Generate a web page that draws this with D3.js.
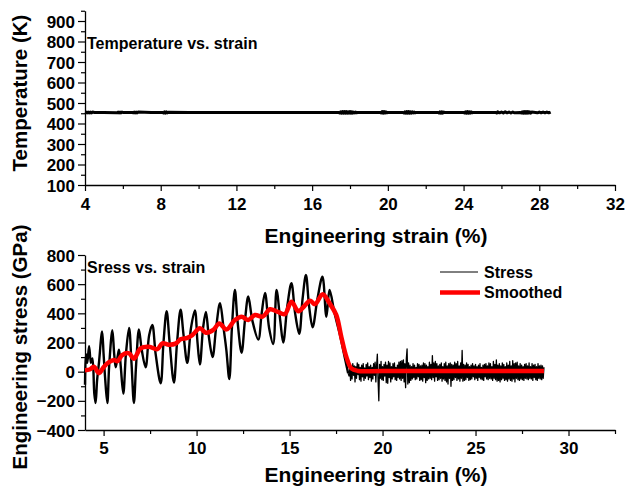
<!DOCTYPE html>
<html>
<head>
<meta charset="utf-8">
<script src="https://cdn.jsdelivr.net/npm/d3@7"></script>
<style>
  html, body { margin: 0; padding: 0; background: #fff; }
  svg { display: block; }
  text { font-family: "Liberation Sans", Arial, sans-serif; font-weight: bold; fill: #000; }
</style>
</head>
<body>
<svg id="chart" width="625" height="489"></svg>
<script>
// ---------------- DATA ----------------
// Top panel: temperature vs strain (strain %, temperature K)
const tempStrain = [4.0,4.05,4.1,4.15,4.2,4.25,4.3,4.35,4.4,4.5,5.0,5.7,5.75,5.8,5.85,5.9,5.95,6.0,6.5,6.55,6.6,6.65,6.7,6.75,6.8,7.5,8.1,8.15,8.2,8.25,8.3,8.35,8.4,9.5,10.7,12.2,13.5,14.7,15.9,17.4,17.45,17.5,17.55,17.6,17.65,17.7,17.75,17.8,17.85,17.9,17.95,18.0,18.05,18.1,18.15,18.2,18.25,18.3,18.35,18.4,19.0,19.6,19.65,19.7,19.75,19.8,19.85,19.9,19.95,20.0,20.8,20.85,20.9,20.95,21.0,21.05,21.1,21.15,21.2,21.25,21.3,21.35,21.4,21.45,21.5,22.0,22.65,22.7,22.75,22.8,22.85,22.9,22.95,23.0,23.5,24.0,24.05,24.1,24.15,24.2,24.25,24.3,24.35,24.4,24.45,24.5,25.2,25.7,25.75,25.8,25.9,26.0,26.1,26.2,26.3,26.4,26.5,26.6,26.7,27.0,27.05,27.1,27.15,27.2,27.25,27.3,27.35,27.4,27.45,27.5,27.55,27.6,27.8,27.9,28.0,28.1,28.2,28.3,28.4,28.5,28.6];
const tempK      = [454,452,456,452,456,452,456,452,456,454,454,452,456,452,456,452,456,454,454,452,456,452,456,452,456,454,454,451,457,451,457,452,455,454,454,454,454,454,454,454,451,457,450,458,450,458,450,458,450,457,451,458,450,457,451,456,452,456,452,454,454,454,451,458,450,458,451,457,452,454,454,451,457,450,458,450,458,450,457,451,457,452,456,452,454,454,454,451,457,450,457,451,456,454,454,454,451,457,450,458,450,457,451,457,452,454,454,454,451,457,452,456,451,457,452,456,451,456,452,454,451,457,450,458,450,458,450,458,451,457,451,456,454,452,456,452,456,452,456,452,456,454];

// Bottom panel: stress vs strain (strain %, stress GPa) – oscillating part
const stressStrain = [4.00,4.05,4.12,4.22,4.32,4.40,4.50,4.57,4.65,4.75,4.92,5.00,5.08,5.20,5.30,5.47,5.57,5.65,5.75,5.83,5.92,6.06,6.20,6.37,6.50,6.63,6.75,6.90,7.05,7.26,7.45,7.62,7.80,8.07,8.22,8.39,8.55,8.78,8.95,9.14,9.30,9.50,9.70,9.91,10.05,10.18,10.35,10.50,10.65,10.86,11.05,11.26,11.45,11.60,11.76,11.90,12.06,12.20,12.42,12.60,12.78,13.00,13.32,13.50,13.68,13.90,14.12,14.30,14.50,14.66,14.88,15.10,15.30,15.52,15.70,15.88,16.05,16.24,16.50,16.77,16.98,17.15,17.42,17.69,17.96,18.15];
const stressValue  = [-90,120,60,175,60,90,-150,-215,-60,60,275,120,-40,-215,40,285,120,30,100,150,40,-150,120,300,60,-215,50,290,150,30,250,320,120,-80,200,415,200,-75,200,425,250,60,300,420,200,50,300,410,250,100,300,470,300,150,-50,300,560,350,130,350,515,350,220,400,540,300,190,560,350,200,450,606,400,260,500,663,450,305,500,651,377,560,400,263,103,-11];

// Bottom panel: stress noise after failure (starts at 18.2 %, every 0.04 %)
const noiseStart = 18.2;
const noiseStep = 0.04;
const noiseValue = [
  -30,45,-60,20,-50,55,-25,40,-70,35,
  -45,60,-20,50,-55,30,-65,45,-35,55,
  -60,25,-45,50,-30,60,-55,35,-40,45,
  -65,30,-50,55,-25,65,-70,40,120,-60,
  -200,50,-45,70,-55,35,-60,50,-30,65,
  -75,45,-80,70,-40,60,-70,35,-50,55,
  -35,60,-55,30,-60,45,-40,65,-50,70,
  -60,75,-45,80,-70,55,-110,90,156,-85,
  60,-75,45,-60,35,-50,55,-40,45,-55,
  30,-50,55,-35,50,-60,40,-55,45,-65,
  60,-40,55,-75,45,-60,35,-50,65,-45,
  50,-55,110,-40,60,-65,70,-35,55,-60,
  40,-55,50,-45,60,-65,35,-50,55,-60,
  65,-70,40,-85,55,-45,60,-100,50,-60,
  45,-55,65,-40,55,-60,70,-50,40,-65,
  60,-45,145,-65,50,-60,45,-55,60,-40,
  50,-60,35,-55,45,-50,55,-35,40,-55,
  50,-45,35,-60,45,-40,55,-50,30,-55,
  45,-60,50,-35,55,-50,40,-55,60,-45,
  55,-50,35,-60,70,-45,50,-55,80,-65,
  45,-60,55,-70,40,-55,60,-45,50,-60,
  35,-55,60,-65,45,-50,70,-60,40,-65,
  75,-50,55,-70,60,-45,65,-55,40,-60,
  55,-50,45,-55,35,-60,50,-45,55,-50,
  40,-55,60,-45,35,-50,55,-60,45,-40,
  50,-55,35,-60,55,-45,40,-50,45,-55,
  40,-45,30];

// Smoothed stress (strain %, stress GPa)
const smoothStrain = [4.0,4.25,4.48,4.75,5.02,5.29,5.56,5.75,6.0,6.37,6.63,6.99,7.44,7.89,8.16,8.5,8.87,9.14,9.5,9.77,10.18,10.5,10.9,11.22,11.61,12.06,12.42,12.78,13.14,13.55,13.95,14.34,14.75,15.1,15.47,15.8,16.1,16.37,16.78,17.15,17.51,17.78,18.05,18.32,18.68,20.0,24.0,28.68];
const smoothValue  = [10,15,34,-10,34,65,80,72,114,126,88,160,171,154,194,185,192,222,232,251,297,267,286,331,290,354,377,354,389,377,428,411,395,480,415,450,487,463,531,469,389,240,103,23,5,5,5,5];

// Axis ticks / labels / texts
const topXTicks = [4,8,12,16,20,24,28,32];
const topXMinor = [6,10,14,18,22,26,30];
const topYTicks = [100,200,300,400,500,600,700,800,900];
const topYMinor = [150,250,350,450,550,650,750,850,950];
const botXTicks = [5,10,15,20,25,30];
const botXMinor = [7.5,12.5,17.5,22.5,27.5,32.5];
const botYTicks = [-400,-200,0,200,400,600,800];
const botYMinor = [-300,-100,100,300,500,700];
const xTitle = "Engineering strain (%)";
const topYTitle = "Temperature (K)";
const botYTitle = "Engineering stress (GPa)";
const topLabel = "Temperature vs. strain";
const botLabel = "Sress vs. strain";
const legendNames = ["Stress", "Smoothed"];

// ---------------- DRAW ----------------
const svg = d3.select("#chart");

const xTop = d3.scaleLinear().domain([4, 32]).range([85, 615]);
const yTop = d3.scaleLinear().domain([100, 950]).range([185, 10.75]);
const xBot = d3.scaleLinear().domain([4, 32.5]).range([85, 615]);
const yBot = d3.scaleLinear().domain([-400, 800]).range([430, 255]);

function styleAxis(g) {
  g.selectAll("path.domain").attr("stroke", "#000").attr("stroke-width", 1.3);
  g.selectAll(".tick line").attr("stroke", "#000").attr("stroke-width", 1.2);
  g.selectAll("text").attr("font-size", 17).attr("font-weight", "bold")
    .attr("font-family", '"Liberation Sans", Arial, sans-serif').attr("fill", "#000");
}

function drawAxes(x, y, xt, xm, yt, ym, xPad) {
  const y0 = y.range()[0];
  const x0 = x.range()[0];
  svg.append("g").attr("transform", `translate(0,${y0})`)
    .call(d3.axisBottom(x).tickValues(xm).tickSize(4).tickSizeOuter(0).tickFormat(""))
    .call(g => g.select("path.domain").remove())
    .call(styleAxis);
  svg.append("g").attr("transform", `translate(${x0},0)`)
    .call(d3.axisLeft(y).tickValues(ym).tickSize(4).tickSizeOuter(0).tickFormat(""))
    .call(g => g.select("path.domain").remove())
    .call(styleAxis);
  svg.append("g").attr("transform", `translate(0,${y0})`)
    .call(d3.axisBottom(x).tickValues(xt).tickSize(6).tickSizeOuter(0).tickPadding(xPad).tickFormat(d3.format("d")))
    .call(styleAxis);
  svg.append("g").attr("transform", `translate(${x0},0)`)
    .call(d3.axisLeft(y).tickValues(yt).tickSize(7).tickSizeOuter(0).tickPadding(3).tickFormat(d3.format("d")))
    .call(styleAxis)
    .call(g => g.selectAll("text").attr("dy", "0.36em"));
}

drawAxes(xTop, yTop, topXTicks, topXMinor, topYTicks, topYMinor, 7);
drawAxes(xBot, yBot, botXTicks, botXMinor, botYTicks, botYMinor, 6);

svg.append("text").attr("x", 376).attr("y", 243).attr("text-anchor", "middle")
  .attr("font-size", 21).text(xTitle);
svg.append("text").attr("x", 376).attr("y", 482).attr("text-anchor", "middle")
  .attr("font-size", 21).text(xTitle);
svg.append("text").attr("transform", "translate(27,93) rotate(-90)").attr("text-anchor", "middle")
  .attr("font-size", 20.5).text(topYTitle);
svg.append("text").attr("transform", "translate(27,347) rotate(-90)").attr("text-anchor", "middle")
  .attr("font-size", 20.5).text(botYTitle);

svg.append("text").attr("x", 87).attr("y", 49).attr("font-size", 16).text(topLabel);
svg.append("text").attr("x", 87).attr("y", 272.5).attr("font-size", 16).text(botLabel);

// temperature line
const tempData = tempStrain.map((s, i) => [s, tempK[i]]);
svg.append("path")
  .attr("d", d3.line().x(d => xTop(d[0])).y(d => yTop(d[1]))(tempData))
  .attr("fill", "none").attr("stroke", "#000").attr("stroke-width", 3)
  .attr("stroke-linejoin", "round");

// stress lines
const oscData = stressStrain.map((s, i) => [s, stressValue[i]]);
const noiseData = noiseValue.map((v, i) => [noiseStart + i * noiseStep, v]);
svg.append("path")
  .attr("d", d3.line().curve(d3.curveCatmullRom.alpha(0.5)).x(d => xBot(d[0])).y(d => yBot(d[1]))(oscData))
  .attr("fill", "none").attr("stroke", "#000").attr("stroke-width", 2.4);
svg.append("path")
  .attr("d", d3.line().x(d => xBot(d[0])).y(d => yBot(d[1]))([oscData[oscData.length - 1]].concat(noiseData)))
  .attr("fill", "none").attr("stroke", "#000").attr("stroke-width", 1.3)
  .attr("stroke-linejoin", "round");

// smoothed
const smData = smoothStrain.map((s, i) => [s, smoothValue[i]]);
svg.append("path")
  .attr("d", d3.line().curve(d3.curveCatmullRom.alpha(0.5)).x(d => xBot(d[0])).y(d => yBot(d[1]))(smData))
  .attr("fill", "none").attr("stroke", "#ff0000").attr("stroke-width", 4.5)
  .attr("stroke-linejoin", "round");

// legend
const legend = svg.append("g");
legend.append("line").attr("x1", 440).attr("x2", 478).attr("y1", 272).attr("y2", 272)
  .attr("stroke", "#000").attr("stroke-width", 1);
legend.append("text").attr("x", 484).attr("y", 277.5).attr("font-size", 16).text(legendNames[0]);
legend.append("line").attr("x1", 440).attr("x2", 480).attr("y1", 292.5).attr("y2", 292.5)
  .attr("stroke", "#ff0000").attr("stroke-width", 4.5);
legend.append("text").attr("x", 484).attr("y", 298).attr("font-size", 16).text(legendNames[1]);
</script>
</body>
</html>
